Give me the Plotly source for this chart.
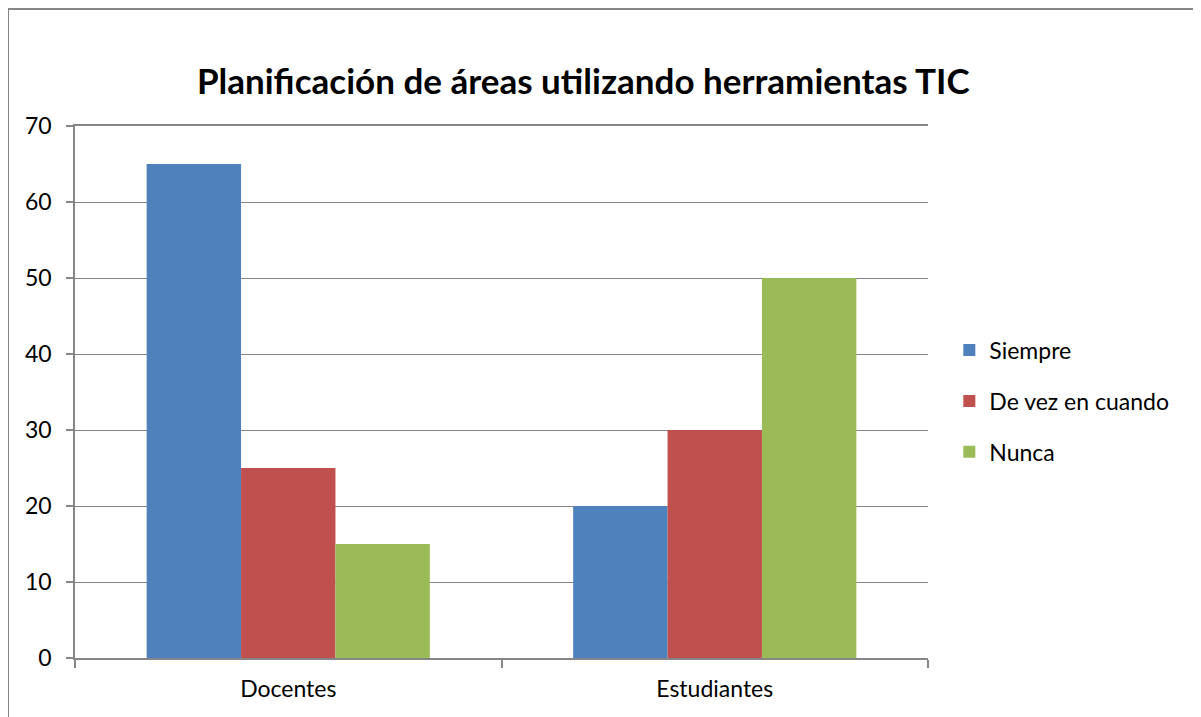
import plotly.graph_objects as go

CATEGORIES = ["Docentes", "Estudiantes"]
SERIES_NAMES = ["Siempre", "De vez en cuando", "Nunca"]
SIEMPRE = [65, 20]
DE_VEZ = [25, 30]
NUNCA = [15, 50]
Y_TICKS = [0, 10, 20, 30, 40, 50, 60, 70]

COLORS = ["#4F81BD", "#C0504D", "#9BBB59"]
FONT = "Lato"
AXIS_GRAY = "#868686"

fig = go.Figure()
for i, (name, vals) in enumerate(zip(SERIES_NAMES, [SIEMPRE, DE_VEZ, NUNCA])):
    fig.add_trace(
        go.Bar(
            x=CATEGORIES,
            y=vals,
            name=name,
            marker=dict(color=COLORS[i], line=dict(width=0)),
            legendgroup=name,
        )
    )

# page is drawn with an 8px body offset, so margins are shifted by 8
fig.update_layout(
    width=1201,
    height=717,
    barmode="group",
    bargap=0.336,
    bargroupgap=0,
    plot_bgcolor="white",
    paper_bgcolor="white",
    margin=dict(l=67, r=281, t=118, b=67, autoexpand=False),
    font=dict(family=FONT, size=23, color="#000000"),
    title=dict(
        text="<b>Planificación de áreas utilizando herramientas TIC</b>",
        font=dict(family=FONT, size=35, color="#000000"),
        x=0.479,
        xanchor="center",
        y=0.897,
        yanchor="middle",
        yref="container",
    ),
    legend=dict(
        x=1.025,
        xanchor="left",
        y=0.483,
        yanchor="middle",
        font=dict(family=FONT, size=23),
        tracegroupgap=18,
        itemwidth=30,
    ),
    xaxis=dict(
        showline=True,
        mirror=True,
        linecolor=AXIS_GRAY,
        linewidth=1.5,
        ticks="outside",
        tickson="boundaries",
        ticklen=8,
        tickcolor=AXIS_GRAY,
        tickwidth=1.5,
        ticklabelstandoff=10,
        showgrid=False,
    ),
    yaxis=dict(
        range=[0, 70],
        tickvals=Y_TICKS,
        showline=True,
        linecolor=AXIS_GRAY,
        linewidth=1.5,
        ticks="outside",
        ticklen=7,
        tickcolor=AXIS_GRAY,
        tickwidth=1.5,
        ticklabelstandoff=10,
        showgrid=True,
        gridcolor=AXIS_GRAY,
        gridwidth=1.2,
        zeroline=False,
    ),
)

# outer chart border (extends past the right and bottom of the image)
fig.add_shape(
    type="rect",
    xref="paper",
    yref="paper",
    x0=-0.0785,
    x1=1.34,
    y0=-0.14,
    y1=1.2199,
    line=dict(color="#878787", width=2),
    layer="below",
)

fig.write_html("out.html")
